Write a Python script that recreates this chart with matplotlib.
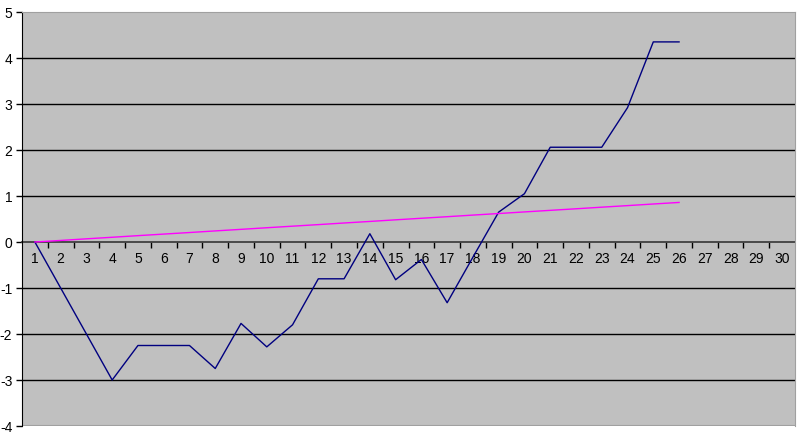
import numpy as np
import matplotlib
matplotlib.use("Agg")
import matplotlib.pyplot as plt
from matplotlib.ticker import FixedLocator

plt.rcParams["font.family"] = ["Liberation Sans", "DejaVu Sans"]

# categories 1..30, series only filled to 26
categories = list(range(1, 31))
series_blue = [0, -1, -2, -3, -2.25, -2.25, -2.25, -2.75, -1.77, -2.28,
               -1.8, -0.8, -0.8, 0.18, -0.82, -0.38, -1.32, -0.33, 0.65, 1.05,
               2.06, 2.06, 2.06, 2.92, 4.35, 4.35]
series_pink = [0.0, 0.034, 0.069, 0.103, 0.138, 0.172, 0.206, 0.241, 0.275, 0.31,
               0.344, 0.378, 0.413, 0.447, 0.482, 0.516, 0.55, 0.585, 0.619, 0.654,
               0.688, 0.722, 0.757, 0.791, 0.826, 0.86]
y_ticks = [-4, -3, -2, -1, 0, 1, 2, 3, 4, 5]

fig = plt.figure(figsize=(8, 4.38), dpi=100)
ax = fig.add_axes([22 / 800, 12 / 438, 773 / 800, 414 / 438])
ax.set_facecolor("#C0C0C0")

xs_b = categories[:len(series_blue)]
xs_p = categories[:len(series_pink)]
ax.plot(xs_b, series_blue, color="#000080", lw=1.0, zorder=3)
ax.plot(xs_p, series_pink, color="#FF00FF", lw=1.0, zorder=3)

ax.set_xlim(0.5, 30.5)
ax.set_ylim(-4, 5)

for y in y_ticks:
    if y not in (0, -4, 5):
        ax.axhline(y, color="black", lw=1.0, zorder=1)

ax.set_yticks(y_ticks)
ax.set_yticklabels([str(v) for v in y_ticks], fontsize=10)
ax.tick_params(axis="y", length=4, width=1, pad=3, color="black")

# category axis crosses at zero
ax.spines["bottom"].set_position(("data", 0))
ax.spines["bottom"].set_color("#404040")
ax.spines["bottom"].set_linewidth(1.3)
ax.spines["bottom"].set_zorder(2)
ax.spines["left"].set_color("black")
ax.spines["top"].set_color("#A0A0A0")
ax.spines["right"].set_color("#A0A0A0")
ax.axhline(-4, color="#A0A0A0", lw=1.5, zorder=1)

ax.set_xticks(categories)
ax.set_xticklabels([str(c) for c in categories], fontsize=10)
ax.tick_params(axis="x", which="major", length=0, pad=7)
ax.xaxis.set_minor_locator(FixedLocator(np.arange(1.5, 30.5, 1)))
ax.tick_params(axis="x", which="minor", length=4, width=1, color="black")

fig.savefig("out.png", dpi=100)
